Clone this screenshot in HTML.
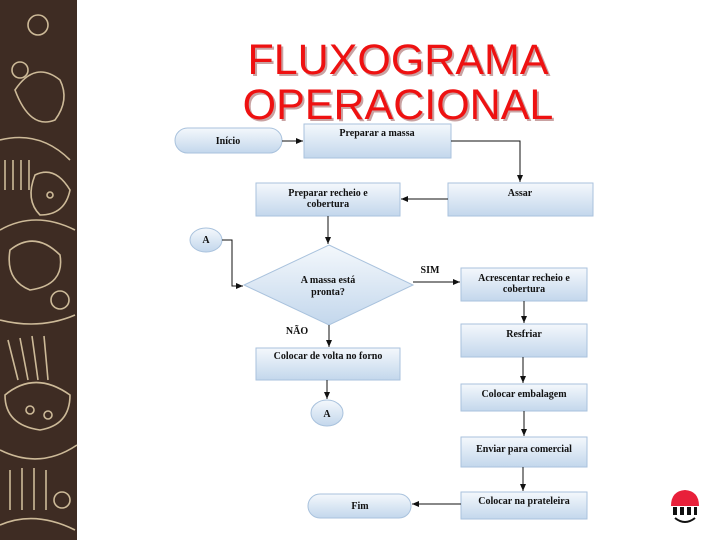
<!DOCTYPE html>
<html><head><meta charset="utf-8"><style>
html,body{margin:0;padding:0;background:#fff;}
svg{display:block;}
.t{font-family:"Liberation Serif",serif;font-weight:bold;font-size:10px;fill:#111;text-anchor:middle;}
</style></head><body>
<svg width="720" height="540" viewBox="0 0 720 540" xmlns="http://www.w3.org/2000/svg">
<defs>
<linearGradient id="g" x1="0" y1="0" x2="0" y2="1">
<stop offset="0" stop-color="#f4f8fc"/><stop offset="1" stop-color="#c3d7ec"/>
</linearGradient>
<marker id="a" markerWidth="8" markerHeight="8" refX="7" refY="4" orient="auto" markerUnits="userSpaceOnUse">
<path d="M0,1 L7,4 L0,7 z" fill="#111"/></marker>
</defs>
<!-- left decorative band -->
<rect x="0" y="0" width="77" height="540" fill="#3e2c23"/>
<g fill="none" stroke="#e6d3ad" stroke-width="1.6" opacity="0.85">
<circle cx="38" cy="25" r="10"/><circle cx="20" cy="70" r="8"/><path d="M15,90 q20,-30 45,-10 q10,20 -5,40 q-25,10 -40,-30z"/>
<path d="M0,140 q40,-10 70,20"/><path d="M5,160 l0,30 M13,160 l0,30 M21,160 l0,30 M29,160 l0,30"/>
<path d="M35,175 q20,-10 35,15 q-5,25 -30,25 q-15,-15 -5,-40z"/><circle cx="50" cy="195" r="3"/>
<path d="M0,230 q35,-20 75,0"/><path d="M10,250 q25,-20 50,5 q5,30 -30,35 q-25,-10 -20,-40z"/>
<circle cx="60" cy="300" r="9"/><path d="M0,320 q40,10 75,-5"/><path d="M8,340 l10,40 M20,338 l8,42 M32,336 l6,44 M44,336 l4,44"/>
<path d="M5,395 q30,-25 65,0 q0,30 -30,35 q-35,-5 -35,-35z"/><circle cx="30" cy="410" r="4"/><circle cx="48" cy="415" r="4"/>
<path d="M0,450 q40,20 77,-5"/><path d="M10,470 l0,40 M22,468 l0,42 M34,468 l0,42 M46,470 l0,40"/>
<circle cx="62" cy="500" r="8"/><path d="M0,525 q35,-15 75,5"/>
</g>
<!-- title -->
<g font-family="Liberation Sans, sans-serif" font-size="43" text-anchor="middle">
<text x="400" y="76" fill="#7a1a1a" opacity="0.4">FLUXOGRAMA</text>
<text x="398" y="74" fill="#ee1111">FLUXOGRAMA</text>
<text x="400" y="121" fill="#7a1a1a" opacity="0.4">OPERACIONAL</text>
<text x="398" y="119" fill="#ee1111">OPERACIONAL</text>
</g>
<!-- shapes -->
<g fill="url(#g)" stroke="#a9c2dd" stroke-width="1">
<rect x="175" y="128" width="107" height="25" rx="12.5"/>
<rect x="304" y="124" width="147" height="34"/>
<rect x="448" y="183" width="145" height="33"/>
<rect x="256" y="183" width="144" height="33"/>
<ellipse cx="206" cy="240" rx="16" ry="12"/>
<polygon points="329,245 413,285 329,325 244,285"/>
<rect x="461" y="268" width="126" height="33"/>
<rect x="461" y="324" width="126" height="33"/>
<rect x="256" y="348" width="144" height="32"/>
<ellipse cx="327" cy="413" rx="16" ry="13"/>
<rect x="461" y="384" width="126" height="27"/>
<rect x="461" y="437" width="126" height="30"/>
<rect x="461" y="492" width="126" height="27"/>
<rect x="308" y="494" width="103" height="24" rx="12"/>
</g>
<!-- connectors -->
<g stroke="#111" stroke-width="1" fill="none" marker-end="url(#a)">
<path d="M282,141 L303,141"/>
<path d="M451,141 L520,141 L520,182"/>
<path d="M448,199 L401,199"/>
<path d="M328,216 L328,244"/>
<path d="M222,240 L232,240 L232,286 L243,286"/>
<path d="M413,282 L460,282"/>
<path d="M524,301 L524,323"/>
<path d="M329,325 L329,347"/>
<path d="M327,380 L327,399"/>
<path d="M523,357 L523,383"/>
<path d="M524,411 L524,436"/>
<path d="M523,467 L523,491"/>
<path d="M461,504 L412,504"/>
</g>
<!-- labels -->
<text class="t" x="228" y="144">Início</text>
<text class="t" x="377" y="136">Preparar a massa</text>
<text class="t" x="520" y="196">Assar</text>
<text class="t" x="328" y="196">Preparar recheio e</text>
<text class="t" x="328" y="207">cobertura</text>
<text class="t" x="206" y="243">A</text>
<text class="t" x="328" y="283">A massa está</text>
<text class="t" x="328" y="295">pronta?</text>
<text class="t" x="430" y="273">SIM</text>
<text class="t" x="524" y="281">Acrescentar recheio e</text>
<text class="t" x="524" y="292">cobertura</text>
<text class="t" x="297" y="334">NÃO</text>
<text class="t" x="524" y="337">Resfriar</text>
<text class="t" x="328" y="359">Colocar de volta no forno</text>
<text class="t" x="327" y="417">A</text>
<text class="t" x="524" y="397">Colocar embalagem</text>
<text class="t" x="524" y="452">Enviar para comercial</text>
<text class="t" x="524" y="504">Colocar na prateleira</text>
<text class="t" x="360" y="509">Fim</text>
<!-- logo -->
<path d="M671,506 q0,-15 14,-16 q14,1 14,16 z" fill="#e8203a"/>
<g fill="#111"><rect x="673" y="507" width="4" height="8"/><rect x="680" y="507" width="4" height="8"/><rect x="687" y="507" width="4" height="8"/><rect x="694" y="507" width="3" height="8"/></g>
<path d="M675,518 q10,8 20,0" stroke="#111" stroke-width="2" fill="none"/>
</svg>
</body></html>
